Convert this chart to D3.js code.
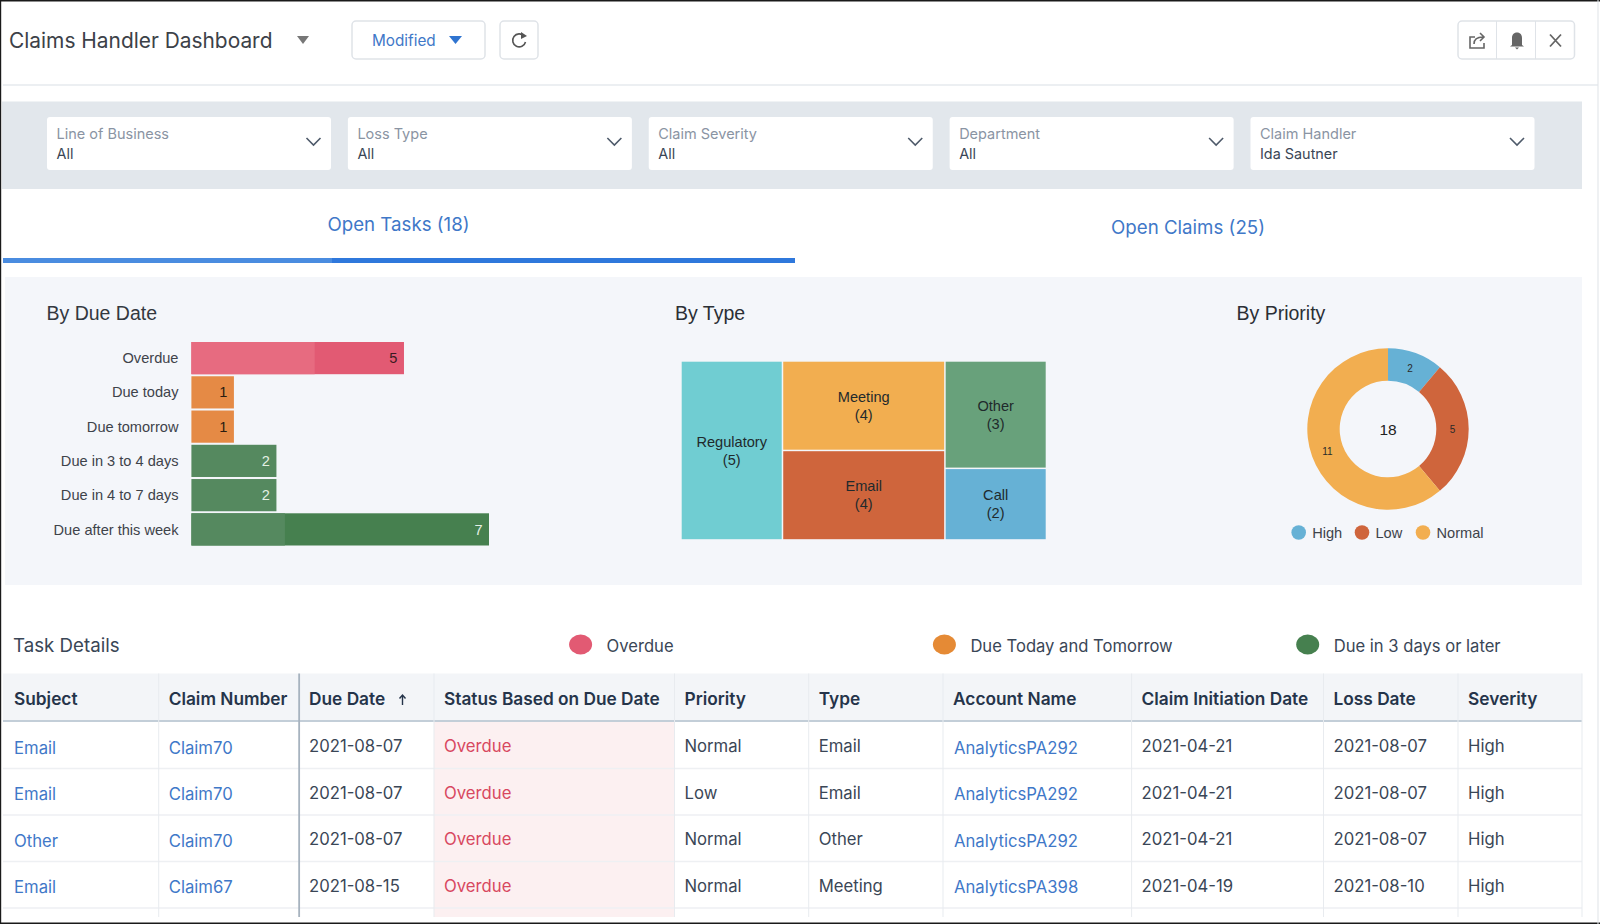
<!DOCTYPE html>
<html>
<head>
<meta charset="utf-8">
<title>Claims Handler Dashboard</title>
<script src="https://cdn.jsdelivr.net/npm/d3@7"></script>
<style>
html, body { margin: 0; padding: 0; background: #fff; }
svg { display: block; }
text { font-family: Inter, sans-serif; }
.chart text { font-family: "Liberation Sans", Arial, sans-serif; }
</style>
</head>
<body>
<svg id="page" width="1600" height="924"></svg>
<script>
// filter bar
var filterLabels = ['Line of Business', 'Loss Type', 'Claim Severity', 'Department', 'Claim Handler'];
var filterValues = ['All', 'All', 'All', 'All', 'Ida Sautner'];

// by due date
var dueCategories = ['Overdue', 'Due today', 'Due tomorrow', 'Due in 3 to 4 days', 'Due in 4 to 7 days', 'Due after this week'];
var dueValues = [5, 1, 1, 2, 2, 7];
var dueColors = ['#e25a73', '#e58a45', '#e58a45', '#55895f', '#55895f', '#46804f'];
var dueLabelColors = ['#3a1a22', '#2a1c10', '#2a1c10', '#e4f0e4', '#e4f0e4', '#e4f0e4'];
// the screenshot has a paler band over the start of the two long bars
var dueFade = [2.9, 0, 0, 0, 0, 2.2];
var dueFadeColors = ['#e76b80', null, null, null, null, '#55895f'];

// by type
var typeNames = ['Regulatory', 'Meeting', 'Email', 'Other', 'Call'];
var typeValues = [5, 4, 4, 3, 2];
var typeColors = ['#70cdd2', '#f2ae50', '#cf653c', '#68a17b', '#66b1d5'];

// by priority
var priorityNames = ['High', 'Low', 'Normal'];
var priorityValues = [2, 5, 11];
var priorityColors = ['#66b1d5', '#cf653c', '#f2ae50'];

// task details
var legendNames = ['Overdue', 'Due Today and Tomorrow', 'Due in 3 days or later'];
var legendColors = ['#e25a73', '#e58a35', '#46804f'];
var columnNames = ['Subject', 'Claim Number', 'Due Date', 'Status Based on Due Date', 'Priority', 'Type', 'Account Name', 'Claim Initiation Date', 'Loss Date', 'Severity'];
var subjects = ['Email', 'Email', 'Other', 'Email'];
var claimNumbers = ['Claim70', 'Claim70', 'Claim70', 'Claim67'];
var dueDates = ['2021-08-07', '2021-08-07', '2021-08-07', '2021-08-15'];
var statuses = ['Overdue', 'Overdue', 'Overdue', 'Overdue'];
var priorities = ['Normal', 'Low', 'Normal', 'Normal'];
var types = ['Email', 'Email', 'Other', 'Meeting'];
var accounts = ['AnalyticsPA292', 'AnalyticsPA292', 'AnalyticsPA292', 'AnalyticsPA398'];
var initiationDates = ['2021-04-21', '2021-04-21', '2021-04-21', '2021-04-19'];
var lossDates = ['2021-08-07', '2021-08-07', '2021-08-07', '2021-08-10'];
var severities = ['High', 'High', 'High', 'High'];

var blue = '#3f78c8';
var inkDark = '#3a4656';

var svg = d3.select('#page');

function rect(parent, x, y, w, h, fill) {
    return parent.append('rect').attr('x', x).attr('y', y).attr('width', w).attr('height', h).attr('fill', fill);
}

function label(parent, x, y, str, size, fill, anchor) {
    return parent.append('text')
        .attr('x', x)
        .attr('y', y)
        .attr('dy', '0.35em')
        .attr('font-size', size)
        .attr('fill', fill)
        .attr('text-anchor', anchor || 'start')
        .text(str);
}

function button(parent, x, y, w, h) {
    return rect(parent, x, y, w, h, '#fff').attr('rx', 4).attr('stroke', '#dfe3e8').attr('stroke-width', 1.5);
}

buildHeader();
buildFilters();
buildTabs();
rect(svg, 5, 277, 1577, 308, '#f4f6fa');
buildDueChart();
buildTypeChart();
buildPriorityChart();
buildTable();

// screenshot frame
rect(svg, 0, 0, 1600, 1.5, '#1a1a1a');
rect(svg, 0, 0, 1.2, 924, '#1a1a1a');
rect(svg, 0, 922.5, 1600, 1.5, '#1a1a1a');
rect(svg, 1597.5, 0, 1, 924, '#dfe3e8');

function buildHeader() {
    var g = svg.append('g');
    label(g, 9, 40.5, 'Claims Handler Dashboard', 20.9, '#3c4148');
    g.append('path').attr('d', 'M297,36 L309,36 L303,44 Z').attr('fill', '#777');

    button(g, 352, 21, 133, 38);
    label(g, 372, 41, 'Modified', 15.3, blue);
    g.append('path').attr('d', 'M449,36 L462,36 L455.5,44 Z').attr('fill', '#2f74d0');

    button(g, 500, 21, 38, 38);
    g.append('path')
        .attr('d', 'M524,36 A6.5,6.5 0 1 0 525.5,42')
        .attr('fill', 'none').attr('stroke', '#555').attr('stroke-width', 1.6);
    g.append('path').attr('d', 'M521,32 L527,36 L521,39 Z').attr('fill', '#555');

    button(g, 1458, 21, 116.5, 38);
    rect(g, 1496, 21, 1, 38, '#dfe3e8');
    rect(g, 1535, 21, 1, 38, '#dfe3e8');
    // share icon
    g.append('path')
        .attr('d', 'M1475,37 L1470,37 L1470,48 L1484,48 L1484,43')
        .attr('fill', 'none').attr('stroke', '#666').attr('stroke-width', 1.6);
    g.append('path')
        .attr('d', 'M1474,44 C1474,39 1478,37 1483,37 M1480,33 L1484,37 L1480,41')
        .attr('fill', 'none').attr('stroke', '#666').attr('stroke-width', 1.6);
    // bell icon
    g.append('path')
        .attr('d', 'M1512,45 L1512,38 C1512,34 1514.5,32.5 1517,32.5 C1519.5,32.5 1522,34 1522,38 L1522,45 L1524,46.500 L1510,46.500 Z M1515,47.5 L1519,47.5 L1517,49.500 Z')
        .attr('fill', '#666');
    // close icon
    g.append('path')
        .attr('d', 'M1550,34.500 L1561,46.500 M1561,34.500 L1550,46.500')
        .attr('stroke', '#666').attr('stroke-width', 1.8);

    rect(g, 3, 84, 1595, 2, '#eceff2');
}

function buildFilters() {
    var g = svg.append('g');
    rect(g, 2, 101.500, 1580, 87.5, '#e2e7ec');

    var boxX = d3.scalePoint().domain(filterLabels).range([47, 1250.5]);
    var boxWidth = 284;

    filterLabels.forEach(function(d, i) {
        var x = boxX(d);
        rect(g, x, 117, boxWidth, 53, '#fff').attr('rx', 3);
        label(g, x + 9.5, 134, d, 14.5, '#8a94a3');
        label(g, x + 9.5, 154, filterValues[i], 14.4, inkDark);
        g.append('path')
            .attr('d', 'M' + (x + boxWidth - 24.5) + ',138 L' + (x + boxWidth - 17.500) + ',145 L' + (x + boxWidth - 10.5) + ',138')
            .attr('fill', 'none').attr('stroke', '#4e5a6a').attr('stroke-width', 1.6);
    });
}

function buildTabs() {
    var g = svg.append('g');
    label(g, 398.5, 224, 'Open Tasks (18)', 18.7, blue, 'middle');
    label(g, 1188, 227, 'Open Claims (25)', 18.7, blue, 'middle');
    rect(g, 3, 258, 329, 5, '#4a8ce0');
    rect(g, 332, 258, 463, 5, '#2f78dc');
}

function buildDueChart() {
    var g = svg.append('g').attr('class', 'chart');
    label(g, 46.500, 313, 'By Due Date', 19.5, '#33383f');

    var x = d3.scaleLinear().domain([0, 7]).range([191.4, 489]);
    var y = d3.scaleBand().domain(dueCategories).range([342, 545.5]).paddingInner(0.06).paddingOuter(0);

    var rows = g.selectAll('g.row')
        .data(dueCategories)
        .enter()
        .append('g')
        .attr('class', 'row');

    rows.append('rect')
        .attr('x', x(0))
        .attr('y', function(d) { return y(d); })
        .attr('height', y.bandwidth())
        .attr('width', function(d, i) { return x(dueValues[i]) - x(0); })
        .attr('fill', function(d, i) { return dueColors[i]; });

    rows.filter(function(d, i) { return dueFade[i] > 0; })
        .append('rect')
        .attr('x', x(0))
        .attr('y', function(d) { return y(d); })
        .attr('height', y.bandwidth())
        .attr('width', function(d) { return x(dueFade[dueCategories.indexOf(d)]) - x(0); })
        .attr('fill', function(d) { return dueFadeColors[dueCategories.indexOf(d)]; });

    rows.append('text')
        .attr('x', 178.5)
        .attr('y', function(d) { return y(d) + y.bandwidth() / 2; })
        .attr('dy', '0.35em')
        .attr('text-anchor', 'end')
        .attr('font-size', 14.6)
        .attr('fill', '#3e434a')
        .text(function(d) { return d; });

    rows.append('text')
        .attr('x', function(d, i) { return x(dueValues[i]) - 6.5; })
        .attr('y', function(d) { return y(d) + y.bandwidth() / 2; })
        .attr('dy', '0.35em')
        .attr('text-anchor', 'end')
        .attr('font-size', 14.6)
        .attr('fill', function(d, i) { return dueLabelColors[i]; })
        .text(function(d, i) { return dueValues[i]; });
}

function buildTypeChart() {
    var g = svg.append('g').attr('class', 'chart');
    label(g, 675, 313, 'By Type', 19.5, '#2b2f35');

    var root = d3.hierarchy({
        children: typeNames.map(function(d, i) { return { name: d, value: typeValues[i], color: typeColors[i] }; })
    }).sum(function(d) { return d.value; });

    d3.treemap()
        .tile(d3.treemapSquarify.ratio(1))
        .size([364, 177.5])
        .paddingInner(1.5)(root);

    var cells = g.append('g')
        .attr('transform', 'translate(681.7,361.7)')
        .selectAll('g')
        .data(root.leaves())
        .enter()
        .append('g');

    cells.append('rect')
        .attr('x', function(d) { return d.x0; })
        .attr('y', function(d) { return d.y0; })
        .attr('width', function(d) { return d.x1 - d.x0; })
        .attr('height', function(d) { return d.y1 - d.y0; })
        .attr('fill', function(d) { return d.data.color; });

    cells.append('text')
        .attr('x', function(d) { return (d.x0 + d.x1) / 2; })
        .attr('y', function(d) { return (d.y0 + d.y1) / 2 - 9; })
        .attr('dy', '0.35em')
        .attr('text-anchor', 'middle')
        .attr('font-size', 14.6)
        .attr('fill', '#1f2a2c')
        .text(function(d) { return d.data.name; });

    cells.append('text')
        .attr('x', function(d) { return (d.x0 + d.x1) / 2; })
        .attr('y', function(d) { return (d.y0 + d.y1) / 2 + 9; })
        .attr('dy', '0.35em')
        .attr('text-anchor', 'middle')
        .attr('font-size', 14.6)
        .attr('fill', '#1f2a2c')
        .text(function(d) { return '(' + d.data.value + ')'; });
}

function buildPriorityChart() {
    var g = svg.append('g').attr('class', 'chart');
    label(g, 1236.5, 313, 'By Priority', 19.5, '#2b2f35');

    var pie = d3.pie().sort(null).value(function(d) { return d; });
    var arc = d3.arc().innerRadius(48.3).outerRadius(80.7);
    var donut = g.append('g').attr('transform', 'translate(1388,429)');

    var slices = donut.selectAll('g')
        .data(pie(priorityValues))
        .enter()
        .append('g');

    slices.append('path')
        .attr('d', arc)
        .attr('fill', function(d, i) { return priorityColors[i]; });

    slices.append('text')
        .attr('transform', function(d) { return 'translate(' + arc.centroid(d) + ')'; })
        .attr('dy', '0.35em')
        .attr('text-anchor', 'middle')
        .attr('font-size', 10)
        .attr('fill', '#2a2a2a')
        .text(function(d) { return d.value; });

    label(donut, 0, 1, d3.sum(priorityValues), 15.5, '#222', 'middle');

    var legendX = d3.scaleOrdinal().domain(priorityNames).range([1298.7, 1362, 1423]);
    var items = g.selectAll('g.legend')
        .data(priorityNames)
        .enter()
        .append('g')
        .attr('class', 'legend');

    items.append('circle')
        .attr('cx', function(d) { return legendX(d); })
        .attr('cy', 532.500)
        .attr('r', 7.3)
        .attr('fill', function(d, i) { return priorityColors[i]; });

    items.append('text')
        .attr('x', function(d) { return legendX(d) + 13.5; })
        .attr('y', 532.500)
        .attr('dy', '0.35em')
        .attr('font-size', 14.6)
        .attr('fill', '#3e434a')
        .text(function(d) { return d; });
}

function buildTable() {
    var g = svg.append('g');
    label(g, 13, 645.5, 'Task Details', 18.7, '#3a4656');

    var legendX = d3.scaleOrdinal().domain(legendNames).range([580.6, 944.4, 1307.7]);
    legendNames.forEach(function(d, i) {
        g.append('ellipse')
            .attr('cx', legendX(d))
            .attr('cy', 644.5)
            .attr('rx', 11.5)
            .attr('ry', 10)
            .attr('fill', legendColors[i]);
        label(g, legendX(d) + 26, 646, d, 16.6, inkDark);
    });

    var columns = [subjects, claimNumbers, dueDates, statuses, priorities, types, accounts, initiationDates, lossDates, severities];
    var linkColumns = [0, 1, 6];
    var columnEdges = [3, 158.7, 299, 434, 674.5, 808.7, 943, 1131.6, 1323.5, 1458, 1582];
    var rowY = d3.scaleLinear().domain([0, 4]).range([722, 908]);

    // header strip
    rect(g, columnEdges[0], 673.5, 1579, 46.5, '#f3f5f8');
    rect(g, columnEdges[0], 720, 1579, 2, '#c3ced8');

    // overdue cell tint runs on past the last full row
    rect(g, columnEdges[3], 722, columnEdges[4] - columnEdges[3], 195, '#fcf0f1');

    d3.range(1, 5).forEach(function(r) {
        rect(g, columnEdges[0], rowY(r) - 0.75, 1579, 1.5, '#eef0f3');
    });

    columnEdges.slice(1).forEach(function(x, i) {
        if (i === 1) {
            rect(g, x - 0.75, 673.5, 1.8, 243.5, '#a7b3bf');
        } else {
            rect(g, x - 0.5, 673.5, 1, 243.5, '#e8ebef');
        }
    });

    columnNames.forEach(function(name, c) {
        var x = columnEdges[c] + (c === 0 ? 11 : 10);
        label(g, x, 698.5, name, 17.3, '#25344a').attr('font-weight', 600);
        if (name === 'Due Date') {
            // sort arrow
            g.append('path')
                .attr('d', 'M402.500,705 L402.500,695 M399.500,698.5 L402.500,695 L405.500,698.5')
                .attr('fill', 'none').attr('stroke', '#25344a').attr('stroke-width', 1.4);
        }
        columns[c].forEach(function(value, r) {
            var isLink = linkColumns.indexOf(c) > -1;
            var fill = isLink ? blue : (c === 3 ? '#d8485f' : inkDark);
            var midY = (rowY(r) + rowY(r + 1)) / 2;
            label(g, x + (c === 6 ? 1 : 0), midY + (isLink ? 2.5 : 1), value, 16.7, fill);
        });
    });
}
</script>
</body>
</html>
